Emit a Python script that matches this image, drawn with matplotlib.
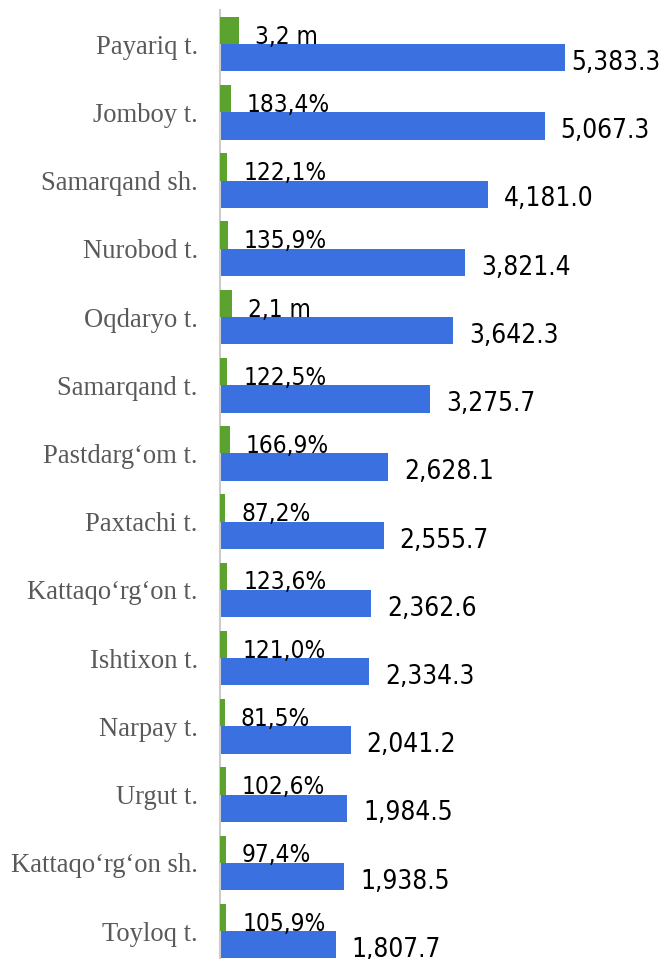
import matplotlib
matplotlib.use("Agg")
import matplotlib.pyplot as plt

districts = ["Payariq t.", "Jomboy t.", "Samarqand sh.", "Nurobod t.", "Oqdaryo t.",
             "Samarqand t.", "Pastdarg\u2018om t.", "Paxtachi t.", "Kattaqo\u2018rg\u2018on t.",
             "Ishtixon t.", "Narpay t.", "Urgut t.", "Kattaqo\u2018rg\u2018on sh.", "Toyloq t."]
volume = [5383.3, 5067.3, 4181.0, 3821.4, 3642.3, 3275.7, 2628.1, 2555.7,
          2362.6, 2334.3, 2041.2, 1984.5, 1938.5, 1807.7]
growth = [320, 183.4, 122.1, 135.9, 210, 122.5, 166.9, 87.2,
          123.6, 121.0, 81.5, 102.6, 97.4, 105.9]
growth_labels = ["3,2 m", "183,4%", "122,1%", "135,9%", "2,1 m", "122,5%", "166,9%",
                 "87,2%", "123,6%", "121,0%", "81,5%", "102,6%", "97,4%", "105,9%"]

blue = "#3b70e0"
green = "#5ba22e"

fig = plt.figure(figsize=(6.64, 9.59), dpi=100)
ax = fig.add_axes([220 / 664, 0, 444 / 664, 949 / 959])
ax2 = ax.twiny()

y = list(range(len(districts)))
yb = [i + 0.2 for i in y]
yg = [i - 0.2 for i in y]

ax.barh(yb, volume, height=0.4, color=blue)
ax2.barh(yg, growth, height=0.4, color=green)

ax.set_xlim(0, 6933)
ax2.set_xlim(0, 7600)
ax.set_ylim(13.41, -0.5)

for i, v in enumerate(volume):
    # the longest bar's label is pulled in so it fits the picture
    pad = 5 if v == max(volume) else 11.5
    ax.annotate(f"{v:,.1f}", xy=(v, yb[i]), xytext=(pad, -8.8), textcoords="offset points",
                ha="left", va="baseline", family="DejaVu Sans", stretch="condensed", size=18.8)
for i, g in enumerate(growth):
    ax2.annotate(growth_labels[i], xy=(g, y[i]), xytext=(11.5, 0.3), textcoords="offset points",
                 ha="left", va="baseline", family="DejaVu Sans", stretch="condensed", size=17.5)

ax.set_yticks(y)
ax.set_yticklabels(districts, family="Liberation Serif", fontsize=19.2, color="#595959")
ax.tick_params(axis="y", length=0, pad=16)
ax.set_xticks([])
ax2.set_xticks([])
for a in (ax, ax2):
    for s in ("top", "right", "bottom"):
        a.spines[s].set_visible(False)
ax2.spines["left"].set_visible(False)
ax.spines["left"].set_color("#cccccc")
ax.spines["left"].set_linewidth(1.5)

fig.savefig("out.png", dpi=100)
